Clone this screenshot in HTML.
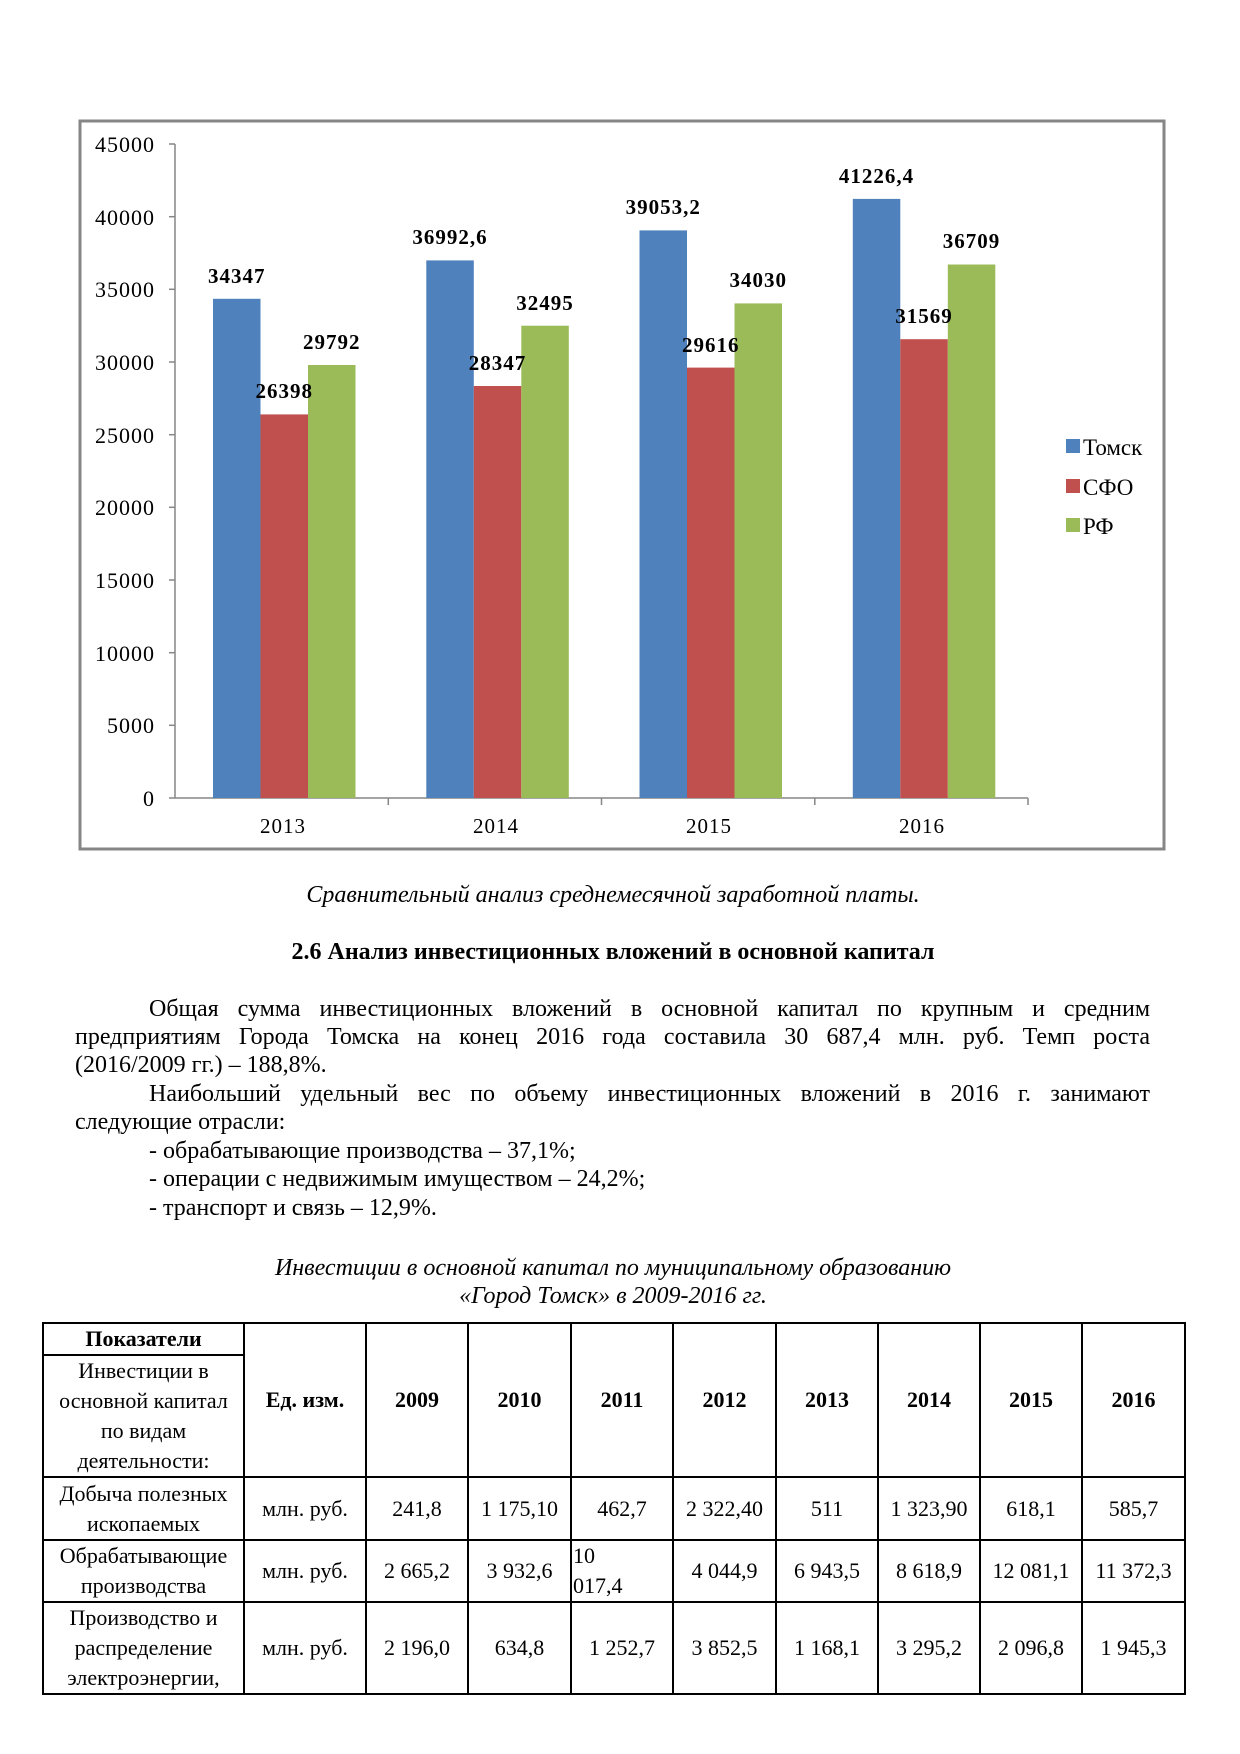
<!DOCTYPE html>
<html><head><meta charset="utf-8"><style>
body{margin:0;background:#fff;}
#pg{position:relative;width:1240px;height:1754px;overflow:hidden;font-family:"Liberation Serif","DejaVu Serif",serif;color:#000;}
.c{position:absolute;left:0;width:1226px;text-align:center;font-size:24px;white-space:nowrap;}
.ln{position:absolute;left:75px;width:1075px;font-size:24px;text-align:justify;text-align-last:justify;white-space:normal;}
.ll{position:absolute;font-size:24px;white-space:nowrap;}
table{position:absolute;left:42px;top:1322px;border-collapse:collapse;table-layout:fixed;width:1142px;font-size:22px;}
td{border:2px solid #000;text-align:center;vertical-align:middle;padding:0 1px;line-height:30px;}
</style></head><body><div id="pg">
<svg width="1240" height="900" style="position:absolute;left:0;top:0" font-family="Liberation Serif, serif">
<rect x="80" y="121" width="1084" height="728" fill="#fff" stroke="#868686" stroke-width="3"/>
<g stroke="#868686" stroke-width="1.5">
<line x1="175" y1="144" x2="175" y2="798"/>
<line x1="175" y1="798" x2="1028" y2="798"/>
<line x1="169" y1="144" x2="175" y2="144"/><line x1="169" y1="216.7" x2="175" y2="216.7"/><line x1="169" y1="289.3" x2="175" y2="289.3"/><line x1="169" y1="362" x2="175" y2="362"/><line x1="169" y1="434.7" x2="175" y2="434.7"/><line x1="169" y1="507.3" x2="175" y2="507.3"/><line x1="169" y1="580" x2="175" y2="580"/><line x1="169" y1="652.7" x2="175" y2="652.7"/><line x1="169" y1="725.3" x2="175" y2="725.3"/><line x1="169" y1="798" x2="175" y2="798"/>
<line x1="388.3" y1="798" x2="388.3" y2="805"/><line x1="601.5" y1="798" x2="601.5" y2="805"/><line x1="814.8" y1="798" x2="814.8" y2="805"/><line x1="1028" y1="798" x2="1028" y2="805"/>
</g>
<g font-size="22" text-anchor="end" letter-spacing="1">
<text x="155" y="152">45000</text><text x="155" y="225">40000</text><text x="155" y="297">35000</text><text x="155" y="370">30000</text><text x="155" y="443">25000</text><text x="155" y="515">20000</text><text x="155" y="588">15000</text><text x="155" y="661">10000</text><text x="155" y="733">5000</text><text x="155" y="806">0</text>
</g>
<g font-size="21" text-anchor="middle" letter-spacing="1">
<text x="283" y="833">2013</text><text x="496" y="833">2014</text><text x="709" y="833">2015</text><text x="922" y="833">2016</text>
</g>
<g>
<rect x="213" y="298.8" width="47.5" height="499.2" fill="#4F81BD"/>
<rect x="260.5" y="414.4" width="47.5" height="383.6" fill="#C0504D"/>
<rect x="308" y="365.0" width="47.5" height="433" fill="#9BBB59"/>
<rect x="426.3" y="260.4" width="47.5" height="537.6" fill="#4F81BD"/>
<rect x="473.8" y="386.0" width="47.5" height="412" fill="#C0504D"/>
<rect x="521.3" y="325.7" width="47.5" height="472.3" fill="#9BBB59"/>
<rect x="639.5" y="230.4" width="47.5" height="567.6" fill="#4F81BD"/>
<rect x="687" y="367.6" width="47.5" height="430.4" fill="#C0504D"/>
<rect x="734.5" y="303.4" width="47.5" height="494.6" fill="#9BBB59"/>
<rect x="852.8" y="198.9" width="47.5" height="599.1" fill="#4F81BD"/>
<rect x="900.3" y="339.2" width="47.5" height="458.8" fill="#C0504D"/>
<rect x="947.8" y="264.5" width="47.5" height="533.5" fill="#9BBB59"/>
</g>
<g font-size="21" font-weight="bold" text-anchor="middle" letter-spacing="1">
<text x="236.8" y="283">34347</text><text x="284.3" y="398">26398</text><text x="331.8" y="349">29792</text>
<text x="450" y="244">36992,6</text><text x="497.5" y="370">28347</text><text x="545" y="310">32495</text>
<text x="663.3" y="214">39053,2</text><text x="710.8" y="352">29616</text><text x="758.3" y="287">34030</text>
<text x="876.5" y="183">41226,4</text><text x="924" y="323">31569</text><text x="971.5" y="248">36709</text>
</g>
<rect x="1066" y="439" width="14" height="14" fill="#4F81BD"/>
<rect x="1066" y="479" width="14" height="14" fill="#C0504D"/>
<rect x="1066" y="518" width="14" height="14" fill="#9BBB59"/>
<g font-size="23"><text x="1083" y="455">Томск</text><text x="1083" y="495">СФО</text><text x="1083" y="534">РФ</text></g>
</svg>

<div class="c" style="top:882px;font-style:italic;">Сравнительный анализ среднемесячной заработной платы.</div>
<div class="c" style="top:939px;font-weight:bold;">2.6 Анализ инвестиционных вложений в основной капитал</div>

<div class="ln" style="top:996px;left:149px;width:1001px;">Общая сумма инвестиционных вложений в основной капитал по крупным и средним</div>
<div class="ln" style="top:1024px;">предприятиям Города Томска на конец 2016 года составила 30 687,4 млн. руб. Темп роста</div>
<div class="ll" style="top:1052px;left:75px;">(2016/2009 гг.) – 188,8%.</div>
<div class="ln" style="top:1081px;left:149px;width:1001px;">Наибольший удельный вес по объему инвестиционных вложений в 2016 г. занимают</div>
<div class="ll" style="top:1109px;left:75px;">следующие отрасли:</div>
<div class="ll" style="top:1138px;left:149px;">- обрабатывающие производства – 37,1%;</div>
<div class="ll" style="top:1166px;left:149px;">- операции с недвижимым имуществом – 24,2%;</div>
<div class="ll" style="top:1195px;left:149px;">- транспорт и связь – 12,9%.</div>

<div class="c" style="top:1255px;font-style:italic;">Инвестиции в основной капитал по муниципальному образованию</div>
<div class="c" style="top:1283px;font-style:italic;">«Город Томск» в 2009-2016 гг.</div>

<table>
<colgroup><col style="width:201px"><col style="width:122px"><col style="width:102px"><col style="width:103px"><col style="width:102px"><col style="width:103px"><col style="width:102px"><col style="width:102px"><col style="width:102px"><col style="width:103px"></colgroup>
<tr style="height:31px"><td style="font-weight:bold">Показатели</td><td rowspan="2" style="font-weight:bold">Ед. изм.</td><td rowspan="2" style="font-weight:bold">2009</td><td rowspan="2" style="font-weight:bold">2010</td><td rowspan="2" style="font-weight:bold">2011</td><td rowspan="2" style="font-weight:bold">2012</td><td rowspan="2" style="font-weight:bold">2013</td><td rowspan="2" style="font-weight:bold">2014</td><td rowspan="2" style="font-weight:bold">2015</td><td rowspan="2" style="font-weight:bold">2016</td></tr>
<tr style="height:122px"><td>Инвестиции в<br>основной капитал<br>по видам<br>деятельности:</td></tr>
<tr style="height:63px"><td>Добыча полезных<br>ископаемых</td><td>млн. руб.</td><td>241,8</td><td>1 175,10</td><td>462,7</td><td>2 322,40</td><td>511</td><td>1 323,90</td><td>618,1</td><td>585,7</td></tr>
<tr style="height:61px"><td>Обрабатывающие<br>производства</td><td>млн. руб.</td><td>2 665,2</td><td>3 932,6</td><td style="text-align:left">10<br>017,4</td><td>4 044,9</td><td>6 943,5</td><td>8 618,9</td><td>12 081,1</td><td>11 372,3</td></tr>
<tr style="height:92px"><td>Производство и<br>распределение<br>электроэнергии,</td><td>млн. руб.</td><td>2 196,0</td><td>634,8</td><td>1 252,7</td><td>3 852,5</td><td>1 168,1</td><td>3 295,2</td><td>2 096,8</td><td>1 945,3</td></tr>
</table>
</div></body></html>
